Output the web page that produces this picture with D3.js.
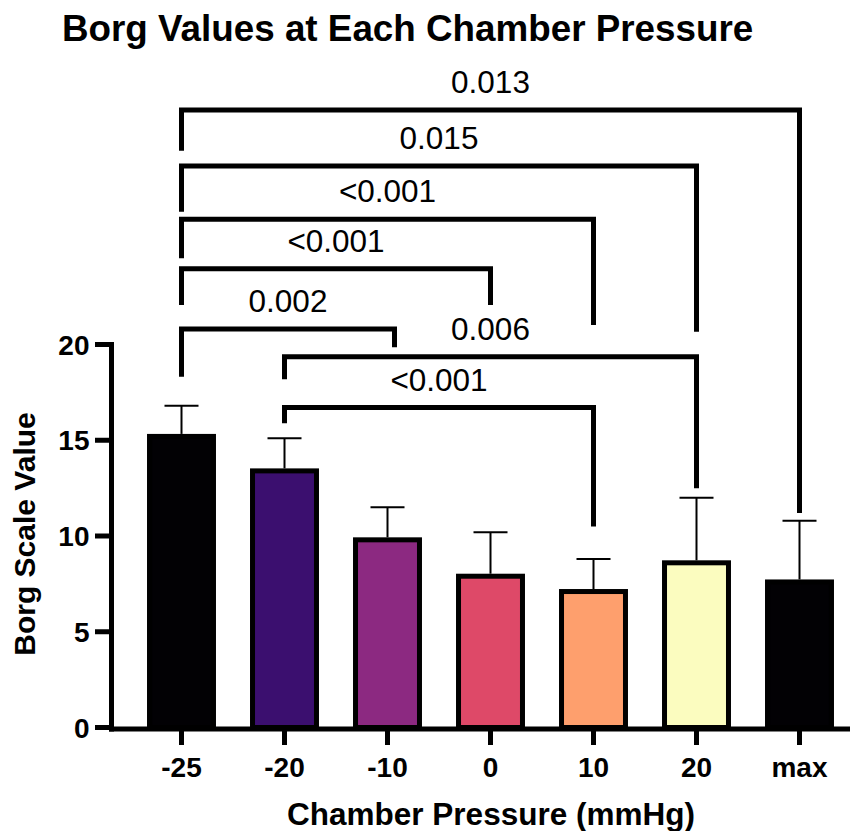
<!DOCTYPE html>
<html>
<head>
<meta charset="utf-8">
<script src="https://cdn.jsdelivr.net/npm/d3@7"></script>
<style>
  body { margin: 0; background: #fff; }
  text { font-family: "Liberation Sans", Arial, sans-serif; fill: #000; }
</style>
</head>
<body>
<div id="chart"></div>
<script>
// data
const categories = ['-25', '-20', '-10', '0', '10', '20', 'max']
const means = [15.2, 13.4, 9.8, 7.9, 7.1, 8.6, 7.6]
const sds = [1.6, 1.7, 1.7, 2.3, 1.7, 3.4, 3.2]
const barColors = ['#020104', '#3b0f6f', '#8c2981', '#de4968', '#fe9f6d', '#fbfcbf', '#020104']
const yTicks = [0, 5, 10, 15, 20]

// significance brackets: from/to category, p label, level and leg ends in Borg units
const bracketFrom = ['-25', '-25', '-25', '-25', '-25', '-20', '-20']
const bracketTo = ['max', '20', '10', '0', '-10', '20', '10']
const bracketP = ['0.013', '0.015', '<0.001', '<0.001', '0.002', '0.006', '<0.001']
const bracketLevel = [32.25, 29.32, 26.54, 23.96, 20.81, 19.36, 16.71]
const bracketLeftEnd = [30.12, 26.93, 24.50, 22.06, 18.32, 18.18, 15.89]
const bracketRightEnd = [11.20, 20.67, 21.02, 22.06, 19.85, 12.49, 10.49]

const W = 861, H = 831
const svg = d3.select('#chart').append('svg')
  .attr('width', W)
  .attr('height', H)

const x = d3.scaleBand()
  .domain(categories)
  .range([130, 851])
  .paddingInner(0.379)
  .paddingOuter(0.1895)

const y = d3.scaleLinear()
  .domain([0, 20])
  .range([727.5, 344.5])

const axisX0 = 111.5

// bars
svg.selectAll('rect.bar')
  .data(categories)
  .enter()
  .append('rect')
  .attr('class', 'bar')
  .attr('x', d => x(d))
  .attr('width', x.bandwidth())
  .attr('y', (d, i) => y(means[i]))
  .attr('height', (d, i) => y(0) - y(means[i]))
  .attr('fill', (d, i) => barColors[i])
  .attr('stroke', '#000')
  .attr('stroke-width', 5)

// error bars (upper only)
const capW = 34
const err = svg.append('g').attr('stroke', '#000').attr('stroke-width', 2)
categories.forEach((c, i) => {
  const cx = x(c) + x.bandwidth() / 2
  err.append('line')
    .attr('x1', cx).attr('x2', cx)
    .attr('y1', y(means[i]) - 2.5).attr('y2', y(means[i] + sds[i]))
  err.append('line')
    .attr('x1', cx - capW / 2).attr('x2', cx + capW / 2)
    .attr('y1', y(means[i] + sds[i])).attr('y2', y(means[i] + sds[i]))
})

// axes
svg.append('line')
  .attr('x1', axisX0).attr('x2', axisX0)
  .attr('y1', y(20) - 2.5).attr('y2', y(0) + 4)
  .attr('stroke', '#000').attr('stroke-width', 5)
svg.append('line')
  .attr('x1', axisX0 - 2.5).attr('x2', 850)
  .attr('y1', y(0) + 1.5).attr('y2', y(0) + 1.5)
  .attr('stroke', '#000').attr('stroke-width', 5)

const yAxis = svg.append('g')
yAxis.selectAll('line')
  .data(yTicks)
  .enter()
  .append('line')
  .attr('x1', 95).attr('x2', axisX0)
  .attr('y1', d => y(d)).attr('y2', d => y(d))
  .attr('stroke', '#000').attr('stroke-width', 5)
yAxis.selectAll('text')
  .data(yTicks)
  .enter()
  .append('text')
  .attr('x', 89.5)
  .attr('y', d => y(d) + 10)
  .attr('text-anchor', 'end')
  .attr('font-size', 28)
  .attr('font-weight', 'bold')
  .text(d => d)

const xAxis = svg.append('g')
xAxis.selectAll('line')
  .data(categories)
  .enter()
  .append('line')
  .attr('x1', d => x(d) + x.bandwidth() / 2)
  .attr('x2', d => x(d) + x.bandwidth() / 2)
  .attr('y1', y(0) + 3).attr('y2', 745)
  .attr('stroke', '#000').attr('stroke-width', 5)
xAxis.selectAll('text')
  .data(categories)
  .enter()
  .append('text')
  .attr('x', d => x(d) + x.bandwidth() / 2)
  .attr('y', 777)
  .attr('text-anchor', 'middle')
  .attr('font-size', 28)
  .attr('font-weight', 'bold')
  .text(d => d)

// brackets
const nudge = { '0.002': 7 } // right leg of -25 vs -10 sits a bit right of centre
const brk = svg.append('g')
bracketP.forEach((p, i) => {
  const xl = x(bracketFrom[i]) + x.bandwidth() / 2
  const xr = x(bracketTo[i]) + x.bandwidth() / 2 + (i === 4 ? nudge['0.002'] : 0)
  const path = d3.path()
  path.moveTo(xl, y(bracketLeftEnd[i]))
  path.lineTo(xl, y(bracketLevel[i]))
  path.lineTo(xr, y(bracketLevel[i]))
  path.lineTo(xr, y(bracketRightEnd[i]))
  brk.append('path')
    .attr('d', path.toString())
    .attr('fill', 'none')
    .attr('stroke', '#000')
    .attr('stroke-width', 5)
    .attr('stroke-linejoin', 'miter')
  brk.append('text')
    .attr('x', (xl + xr) / 2)
    .attr('y', y(bracketLevel[i]) - 17)
    .attr('text-anchor', 'middle')
    .attr('font-size', 31.5)
    .text(p)
})

// titles
svg.append('text')
  .attr('x', 62).attr('y', 40.5)
  .attr('font-size', 36.8)
  .attr('font-weight', 'bold')
  .text('Borg Values at Each Chamber Pressure')

svg.append('text')
  .attr('transform', 'translate(35,534) rotate(-90)')
  .attr('text-anchor', 'middle')
  .attr('font-size', 30)
  .attr('font-weight', 'bold')
  .text('Borg Scale Value')

svg.append('text')
  .attr('x', 491).attr('y', 825)
  .attr('text-anchor', 'middle')
  .attr('font-size', 31.5)
  .attr('font-weight', 'bold')
  .text('Chamber Pressure (mmHg)')
</script>
</body>
</html>
